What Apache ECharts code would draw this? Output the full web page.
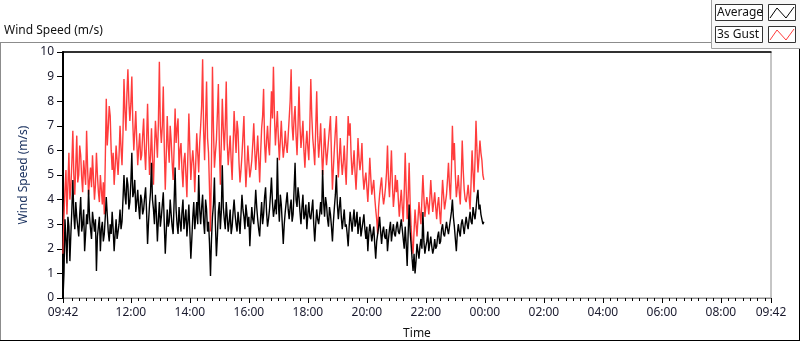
<!DOCTYPE html>
<html>
<head>
<meta charset="utf-8">
<script src="https://cdn.jsdelivr.net/npm/echarts@6/dist/echarts.min.js"></script>
<style>
  html, body { margin: 0; padding: 0; background: #fff; }
  #chart { width: 800px; height: 342px; }
</style>
</head>
<body>
<div id="chart"></div>
<script>
// minutes after 09:42, one sample every 2 min
var startMin = 9 * 60 + 42;
var stepMin = 2;

// average wind speed (m/s)
var avgSpeed = [
  0, 1.0, 3.2, 2.4, 1.4, 3.3, 2.9, 1.5, 2.6, 3.6, 4.8, 3.4, 2.8, 3.9, 3.3, 2.9, 2.5, 3.4, 4.1, 2.7,
  3.0, 3.6, 1.9, 2.6, 3.4, 3.0, 4.4, 3.3, 2.8, 2.4, 3.5, 3.1, 2.7, 3.2, 1.1, 2.5, 2.9, 3.3, 1.9, 2.8,
  3.1, 2.3, 2.6, 3.3, 4.1, 3.4, 2.7, 2.3, 3.0, 2.6, 3.5, 2.8, 1.9, 2.6, 3.2, 2.4, 2.7, 3.0, 3.6, 2.8,
  3.1, 4.0, 5.0, 4.2, 3.8, 4.9, 4.6, 3.6, 3.9, 4.7, 5.9, 4.1, 4.3, 4.8, 3.5, 3.9, 4.4, 3.7, 3.2, 4.2,
  4.0, 3.4, 3.6, 4.1, 4.5, 3.5, 2.2, 3.1, 3.8, 4.3, 5.5, 4.0, 3.6, 3.0, 4.2, 3.4, 2.3, 3.2, 3.9, 2.9,
  3.3, 3.8, 4.3, 3.0, 1.8, 2.7, 3.6, 2.9, 3.1, 4.0, 3.4, 2.9, 2.6, 3.9, 5.3, 3.6, 3.0, 2.6, 3.7, 3.1,
  2.7, 3.5, 4.0, 2.8, 3.2, 3.6, 2.5, 3.1, 3.8, 2.7, 1.6, 2.4, 3.3, 3.9, 2.8, 3.3, 3.9, 3.0, 5.0, 3.6,
  3.0, 3.7, 4.2, 3.1, 2.6, 4.0, 3.6, 2.7, 3.1, 2.2, 0.9, 2.4, 3.3, 3.8, 4.9, 3.0, 1.7, 2.5, 3.5, 3.9,
  2.8, 3.5, 5.4, 3.7, 3.2, 2.8, 3.9, 3.3, 2.7, 3.1, 3.6, 2.6, 2.9, 3.5, 4.0, 3.4, 3.0, 2.7, 3.5, 3.1,
  2.6, 3.4, 4.2, 3.6, 3.3, 2.8, 3.8, 3.4, 2.9, 3.3, 2.1, 3.0, 3.7, 3.2, 3.0, 3.6, 4.4, 3.7, 3.2, 2.8,
  2.5, 3.3, 3.9, 3.0, 3.4, 4.1, 4.5, 3.5, 2.9, 3.2, 3.6, 4.2, 4.9, 3.9, 3.3, 3.6, 4.0, 3.4, 5.7, 3.9,
  3.1, 4.2, 3.8, 3.0, 2.2, 3.0, 3.5, 3.9, 4.3, 3.6, 3.2, 3.7, 4.0, 3.1, 3.4, 4.4, 5.5, 4.0, 3.7, 4.5,
  4.1, 3.5, 3.0, 3.7, 4.2, 3.2, 3.4, 3.8, 2.8, 3.4, 3.9, 3.3, 3.2, 3.6, 4.0, 3.0, 2.3, 3.0, 3.6, 3.2,
  3.0, 3.4, 3.9, 3.4, 5.2, 3.9, 3.3, 4.1, 3.8, 3.2, 2.9, 3.7, 3.4, 2.9, 2.3, 3.1, 3.7, 4.2, 5.0, 3.8,
  3.2, 3.7, 4.1, 3.3, 2.8, 3.2, 3.6, 2.9, 3.0, 2.6, 2.1, 2.9, 3.5, 3.1, 2.7, 3.2, 3.6, 2.9, 3.1, 3.5,
  2.6, 3.0, 3.3, 2.5, 2.8, 3.1, 3.4, 2.8, 2.4, 2.9, 1.9, 2.6, 3.0, 2.7, 2.3, 2.6, 2.9, 2.2, 1.6, 2.3,
  2.6, 2.9, 3.3, 2.7, 2.2, 2.7, 2.9, 2.5, 2.4, 2.8, 1.9, 2.4, 2.8, 3.1, 2.3, 2.7, 3.0, 2.6, 2.5, 2.9,
  3.1, 2.7, 2.6, 2.9, 3.2, 2.8, 2.4, 2.0, 2.9, 2.2, 1.3, 2.6, 3.8, 2.7, 2.2, 1.6, 1.1, 1.8, 1.0, 1.5,
  2.2, 1.9, 1.6, 2.1, 2.4, 2.0, 3.5, 2.3, 1.8, 2.1, 2.3, 2.7, 1.9, 2.2, 2.5, 2.1, 1.8, 2.0, 2.4, 2.0,
  2.1, 2.5, 2.7, 2.2, 2.3, 2.8, 3.0, 2.6, 2.5, 2.8, 3.1, 2.8, 2.6, 2.9, 3.2, 3.5, 4.0, 3.3, 2.9, 2.4,
  1.9, 2.6, 3.0, 2.7, 2.5, 3.0, 3.2, 2.9, 2.6, 3.0, 3.3, 3.0, 2.8, 3.2, 3.5, 3.1, 3.0, 3.7, 3.4, 3.2,
  3.6, 4.1, 4.4, 3.6, 3.8, 3.4, 3.2, 3.0, 3.1
];

// 3 second gust (m/s)
var gustSpeed = [
  1.8, 3.3, 4.4, 5.2, 3.4, 4.6, 5.9, 4.0, 4.5, 5.5, 6.8, 5.0, 4.2, 5.4, 6.6, 4.7, 5.0, 6.2, 5.8, 4.9,
  4.3, 5.6, 5.1, 4.6, 6.8, 5.3, 4.2, 4.8, 5.3, 4.5, 5.8, 4.9, 4.0, 4.6, 5.9, 5.0, 4.3, 3.9, 5.0, 4.4,
  3.8, 4.7, 3.4, 5.6, 8.1, 6.2, 6.9, 7.8, 7.4, 6.0, 5.2, 5.9, 4.6, 5.3, 6.2, 5.6, 5.0, 5.8, 7.0, 6.1,
  5.4, 6.7, 8.9, 7.6, 6.8, 8.3, 9.3, 8.0, 7.2, 7.9, 9.0, 7.1, 6.0, 6.8, 7.6, 6.4, 5.4, 6.1, 6.7, 5.6,
  5.8, 6.6, 7.3, 6.0, 5.2, 6.4, 7.9, 6.3, 5.0, 5.8, 6.9, 5.6, 4.6, 6.0, 7.2, 6.5, 5.7, 7.1, 9.6, 7.0,
  6.3, 7.0, 8.6, 6.1, 4.4, 5.8, 7.4, 6.2, 5.5, 7.0, 6.4, 5.5, 4.8, 6.1, 7.7, 6.3, 6.9, 7.3, 5.2, 6.0,
  6.3, 5.2, 4.5, 5.6, 5.9, 5.0, 4.1, 5.8, 7.5, 6.1, 4.8, 5.5, 6.0, 5.4, 4.3, 5.5, 6.7, 5.9, 5.1, 6.3,
  7.0, 7.8, 9.7, 6.8, 5.6, 7.2, 8.8, 6.5, 5.9, 4.4, 2.7, 5.6, 9.4, 6.9, 5.3, 5.9, 6.4, 7.5, 8.7, 6.2,
  4.6, 6.3, 8.1, 6.9, 6.0, 7.0, 8.8, 6.3, 5.4, 6.0, 6.6, 5.6, 4.8, 6.2, 7.6, 6.7, 5.9, 7.2, 6.8, 5.5,
  4.7, 5.2, 5.8, 6.6, 7.4, 5.6, 4.5, 5.3, 6.2, 5.5, 4.9, 5.2, 5.6, 6.3, 7.1, 6.0, 5.2, 5.9, 6.6, 5.7,
  4.7, 5.9, 6.9, 7.4, 8.5, 6.3, 5.5, 6.4, 7.0, 6.2, 5.8, 7.1, 8.4, 7.3, 9.4, 7.5, 6.2, 6.9, 7.6, 6.5,
  5.6, 6.4, 7.2, 6.3, 5.7, 6.1, 6.8, 6.2, 5.9, 6.6, 7.3, 8.0, 9.3, 7.0, 6.4, 7.3, 7.8, 6.6, 5.8, 7.0,
  8.6, 7.0, 6.1, 6.6, 7.2, 6.0, 5.3, 6.2, 6.8, 6.1, 5.6, 7.0, 8.9, 7.4, 6.5, 6.0, 5.4, 6.9, 8.4, 6.6,
  5.7, 6.3, 7.1, 6.0, 5.0, 5.8, 6.9, 6.1, 5.4, 5.9, 6.4, 6.9, 7.4, 5.8, 4.4, 5.3, 6.1, 6.8, 7.4, 5.9,
  4.9, 5.7, 6.5, 5.6, 5.0, 5.5, 6.2, 5.3, 4.6, 6.0, 7.4, 6.6, 7.1, 5.8, 5.0, 5.4, 6.0, 5.1, 4.4, 5.3,
  6.5, 5.7, 5.2, 5.6, 6.3, 5.0, 4.4, 4.8, 5.1, 4.5, 3.9, 4.7, 5.7, 4.9, 4.2, 4.5, 4.8, 4.1, 3.6, 3.2,
  2.6, 3.7, 4.2, 4.6, 4.9, 4.2, 3.8, 4.1, 4.5, 5.1, 6.2, 4.8, 4.1, 5.0, 6.0, 4.6, 3.7, 4.2, 5.0, 4.3,
  4.8, 4.0, 3.3, 3.9, 4.4, 3.7, 3.1, 4.3, 5.9, 4.4, 3.2, 4.1, 5.5, 3.9, 2.9, 2.2, 1.8, 2.7, 3.6, 3.0,
  2.5, 3.2, 3.9, 3.4, 3.0, 4.0, 5.0, 4.1, 3.3, 3.7, 4.1, 3.8, 3.4, 4.0, 4.8, 4.1, 3.5, 3.9, 4.3, 3.7,
  3.2, 3.8, 4.1, 3.5, 3.0, 3.9, 4.8, 4.2, 3.6, 3.9, 4.2, 4.8, 5.5, 4.6, 4.0, 5.2, 7.0, 5.6, 6.3, 5.0,
  4.1, 4.5, 5.0, 4.3, 3.8, 4.9, 6.4, 5.2, 4.4, 4.0, 3.9, 4.2, 4.6, 4.1, 3.6, 4.7, 6.0, 5.1, 4.3, 5.6,
  7.2, 6.0, 5.1, 5.7, 6.4, 5.9, 5.6, 5.0, 4.8
];

// x axis: labelled ticks (minutes after 09:42) and 15 min minor ticks
var majorTicks = [0, 138, 258, 378, 498, 618, 738, 858, 978, 1098, 1218, 1338, 1440];
var minorTicks = [];
for (var m = 18; m < 1440; m += 15) {
  if (majorTicks.indexOf(m) < 0) minorTicks.push(m);
}

function clock(v) {
  var t = (startMin + Math.round(v)) % 1440;
  var h = Math.floor(t / 60), mm = t % 60;
  return (h < 10 ? '0' : '') + h + ':' + (mm < 10 ? '0' : '') + mm;
}
function pairs(arr) {
  return arr.map(function (v, i) { return [i * stepMin, v]; });
}

var FONT = '"Noto Sans", "Liberation Sans", sans-serif';
var chart = echarts.init(document.getElementById('chart'));
chart.setOption({
  animation: false,
  backgroundColor: '#fff',
  textStyle: { fontFamily: FONT },
  title: {
    text: 'Wind Speed (m/s)',
    left: 4, top: 25, padding: 0,
    textStyle: { fontSize: 12, fontWeight: 'normal', color: '#111', fontFamily: FONT }
  },
  grid: {
    left: 63, right: 29, top: 52, bottom: 44,
    outerBoundsMode: 'none',
    show: true, borderColor: '#8c8c8c', borderWidth: 1
  },
  xAxis: [
    {
      type: 'value', min: 0, max: 1440,
      name: 'Time', nameLocation: 'middle', nameGap: 30,
      nameTextStyle: { fontSize: 12, color: '#111' },
      axisLine: { show: true, lineStyle: { color: '#8c8c8c', width: 1 } },
      axisTick: { show: true, length: 5, customValues: majorTicks, lineStyle: { color: '#000' } },
      axisLabel: {
        customValues: majorTicks, margin: 9, fontSize: 12, color: '#1a1a2e',
        formatter: function (v) { return clock(v); }
      },
      splitLine: { show: false }
    },
    {
      type: 'value', min: 0, max: 1440, position: 'bottom',
      axisLine: { show: false },
      axisTick: { show: true, length: 3, customValues: minorTicks, lineStyle: { color: '#000' } },
      axisLabel: { show: false },
      splitLine: { show: false }
    },
    {
      type: 'value', min: 0, max: 1440, position: 'top',
      axisLine: { show: true, lineStyle: { color: '#000', width: 1.5 } },
      axisTick: { show: false }, axisLabel: { show: false }, splitLine: { show: false }
    }
  ],
  yAxis: {
    type: 'value', min: 0, max: 10, interval: 1,
    name: 'Wind Speed (m/s)', nameLocation: 'middle', nameGap: 32,
    nameTextStyle: { fontSize: 12, color: '#1d3461' },
    axisLine: { show: true, lineStyle: { color: '#000', width: 2 } },
    axisTick: { show: true, length: 6, lineStyle: { color: '#000' } },
    axisLabel: { margin: 9, fontSize: 12, color: '#1a1a2e' },
    splitLine: { show: false }
  },
  series: [
    {
      name: '3s Gust', type: 'line', showSymbol: false, symbol: 'none',
      lineStyle: { color: '#ff3c3c', width: 1.4 },
      data: pairs(gustSpeed)
    },
    {
      name: 'Average', type: 'line', showSymbol: false, symbol: 'none',
      lineStyle: { color: '#000', width: 1.4 },
      data: pairs(avgSpeed)
    }
  ],
  graphic: [
    // frame lines of the panel
    { type: 'line', shape: { x1: 0, y1: 42.5, x2: 712, y2: 42.5 }, style: { stroke: '#8c8c8c', lineWidth: 1 } },
    { type: 'line', shape: { x1: 0.5, y1: 42, x2: 0.5, y2: 341 }, style: { stroke: '#8c8c8c', lineWidth: 1 } },
    { type: 'line', shape: { x1: 0, y1: 340.5, x2: 800, y2: 340.5 }, style: { stroke: '#000', lineWidth: 1 } },
    { type: 'line', shape: { x1: 799.5, y1: 49, x2: 799.5, y2: 341 }, style: { stroke: '#000', lineWidth: 1 } },
    // legend panel
    { type: 'rect', shape: { x: 711.5, y: -1, width: 90, height: 49.5 }, style: { fill: '#f7f7f7', stroke: '#a0a0a0', lineWidth: 1 } },
    { type: 'rect', shape: { x: 715.5, y: 4.5, width: 47, height: 16 }, style: { fill: '#fff', stroke: '#333', lineWidth: 1 } },
    { type: 'text', x: 717, y: 12.5, style: { text: 'Average', fontSize: 12, fontFamily: FONT, fill: '#111', textVerticalAlign: 'middle' } },
    { type: 'rect', shape: { x: 768.5, y: 4.5, width: 27, height: 16 }, style: { fill: '#fff', stroke: '#333', lineWidth: 1 } },
    { type: 'polyline', shape: { points: [[770, 18], [777, 8], [786, 18], [794, 7]] }, style: { stroke: '#000', lineWidth: 1, fill: null } },
    { type: 'rect', shape: { x: 715.5, y: 26.5, width: 47, height: 16 }, style: { fill: '#fff', stroke: '#333', lineWidth: 1 } },
    { type: 'text', x: 717, y: 34.5, style: { text: '3s Gust', fontSize: 12, fontFamily: FONT, fill: '#111', textVerticalAlign: 'middle' } },
    { type: 'rect', shape: { x: 768.5, y: 26.5, width: 27, height: 16 }, style: { fill: '#fff', stroke: '#333', lineWidth: 1 } },
    { type: 'polyline', shape: { points: [[770, 40], [777, 30], [786, 40], [794, 29]] }, style: { stroke: '#ff3c3c', lineWidth: 1, fill: null } }
  ]
});
</script>
</body>
</html>
